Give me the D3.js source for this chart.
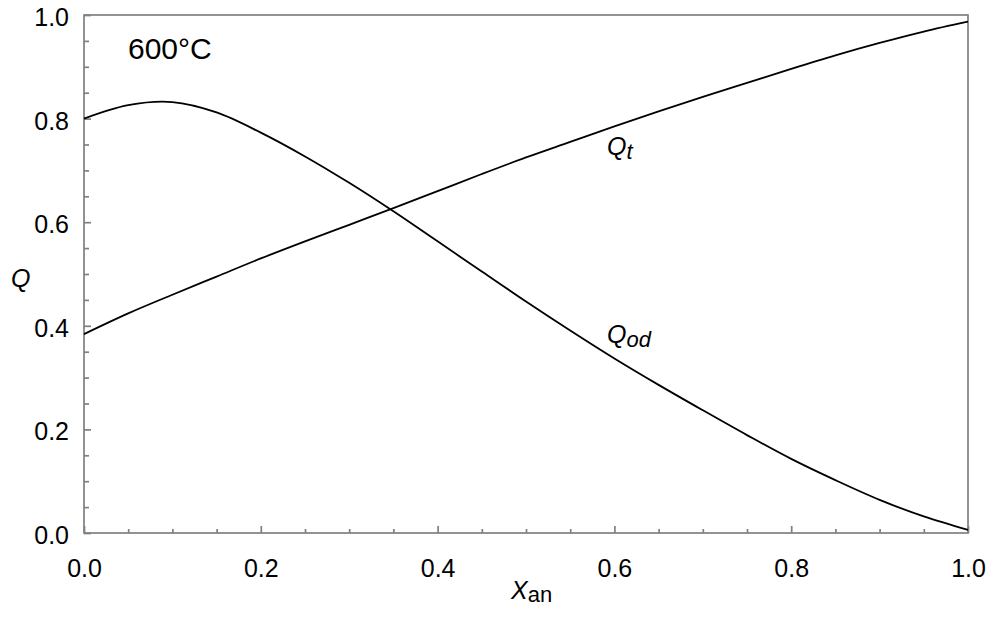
<!DOCTYPE html>
<html>
<head>
<meta charset="utf-8">
<script src="https://cdn.jsdelivr.net/npm/d3@7"></script>
<style>
  body { margin: 0; background: #fff; }
  text { font-family: "Liberation Sans", Arial, sans-serif; fill: #000; }
  .axis path, .axis line { stroke: #808080; stroke-width: 1.7; }
</style>
</head>
<body>
<script>
// data
const xVals = [0, 0.05, 0.1, 0.15, 0.2, 0.25, 0.3, 0.35, 0.4, 0.45, 0.5,
               0.55, 0.6, 0.65, 0.7, 0.75, 0.8, 0.85, 0.9, 0.95, 1.0];
const qOd   = [0.800, 0.826, 0.832, 0.812, 0.773, 0.727, 0.676, 0.621, 0.563, 0.505, 0.447,
               0.391, 0.337, 0.286, 0.237, 0.189, 0.143, 0.102, 0.064, 0.032, 0.006];
const qT    = [0.384, 0.424, 0.460, 0.495, 0.530, 0.563, 0.595, 0.627, 0.660, 0.693, 0.725,
               0.755, 0.785, 0.814, 0.842, 0.869, 0.896, 0.922, 0.946, 0.968, 0.987];
const majorTicks = [0, 0.2, 0.4, 0.6, 0.8, 1.0];
const minorTicks = d3.range(0, 21).map(i => i * 0.05).filter(v => Math.round(v * 20) % 4 !== 0);

//dims
const width = 994, height = 624;
const plot = {left: 84, right: 968, top: 15, bottom: 533};

const svg = d3.select('body').append('svg')
    .attr('width', width)
    .attr('height', height);

const x = d3.scaleLinear().domain([0, 1]).range([plot.left, plot.right]);
const y = d3.scaleLinear().domain([0, 1]).range([plot.bottom, plot.top]);

// frame
svg.append('rect')
    .attr('x', plot.left).attr('y', plot.top)
    .attr('width', plot.right - plot.left)
    .attr('height', plot.bottom - plot.top)
    .attr('fill', 'none')
    .attr('stroke', '#808080')
    .attr('stroke-width', 1.7);

// minor ticks (inward, no labels)
svg.append('g').attr('class', 'axis')
    .attr('transform', `translate(0,${plot.bottom})`)
    .call(d3.axisBottom(x).tickValues(minorTicks).tickSize(-4).tickFormat(''))
    .call(g => g.select('.domain').remove());
svg.append('g').attr('class', 'axis')
    .attr('transform', `translate(${plot.left},0)`)
    .call(d3.axisLeft(y).tickValues(minorTicks).tickSize(-5).tickFormat(''))
    .call(g => g.select('.domain').remove());

// major ticks with labels
const xAxis = svg.append('g').attr('class', 'axis')
    .attr('transform', `translate(0,${plot.bottom})`)
    .call(d3.axisBottom(x).tickValues(majorTicks).tickSize(-7).tickPadding(0).tickFormat(d3.format('.1f')));
xAxis.select('.domain').remove();
xAxis.selectAll('text')
    .attr('y', 44).attr('dy', null)
    .style('font-size', '25px');

const yAxis = svg.append('g').attr('class', 'axis')
    .attr('transform', `translate(${plot.left},0)`)
    .call(d3.axisLeft(y).tickValues(majorTicks).tickSize(-7).tickFormat(d3.format('.1f')));
yAxis.select('.domain').remove();
yAxis.selectAll('text')
    .attr('x', -15).attr('dy', '0.42em')
    .style('font-size', '25px');

// curves
const line = d3.line().curve(d3.curveCatmullRom.alpha(0.5))
    .x(d => x(d[0])).y(d => y(d[1]));
[qOd, qT].forEach(series => {
  svg.append('path')
      .datum(xVals.map((v, i) => [v, series[i]]))
      .attr('fill', 'none')
      .attr('stroke', '#000')
      .attr('stroke-width', 1.8)
      .attr('d', line);
});

// labels
svg.append('text')
    .attr('x', 128).attr('y', 59)
    .style('font-size', '30px')
    .text('600°C');

svg.append('text')
    .attr('x', 11).attr('y', 287)
    .style('font-size', '25px').style('font-style', 'italic')
    .text('Q');

const xl = svg.append('text')
    .attr('x', 511).attr('y', 599)
    .style('font-size', '25px');
xl.append('tspan').style('font-style', 'italic').text('X');
xl.append('tspan').attr('dy', 3).style('font-size', '22px').text('an');

const lt = svg.append('text')
    .attr('x', 607).attr('y', 155)
    .style('font-size', '25px').style('font-style', 'italic');
lt.append('tspan').text('Q');
lt.append('tspan').attr('dy', 4).style('font-size', '22px').text('t');

const lod = svg.append('text')
    .attr('x', 607).attr('y', 343)
    .style('font-size', '25px').style('font-style', 'italic');
lod.append('tspan').text('Q');
lod.append('tspan').attr('dy', 4).style('font-size', '22px').text('od');
</script>
</body>
</html>
